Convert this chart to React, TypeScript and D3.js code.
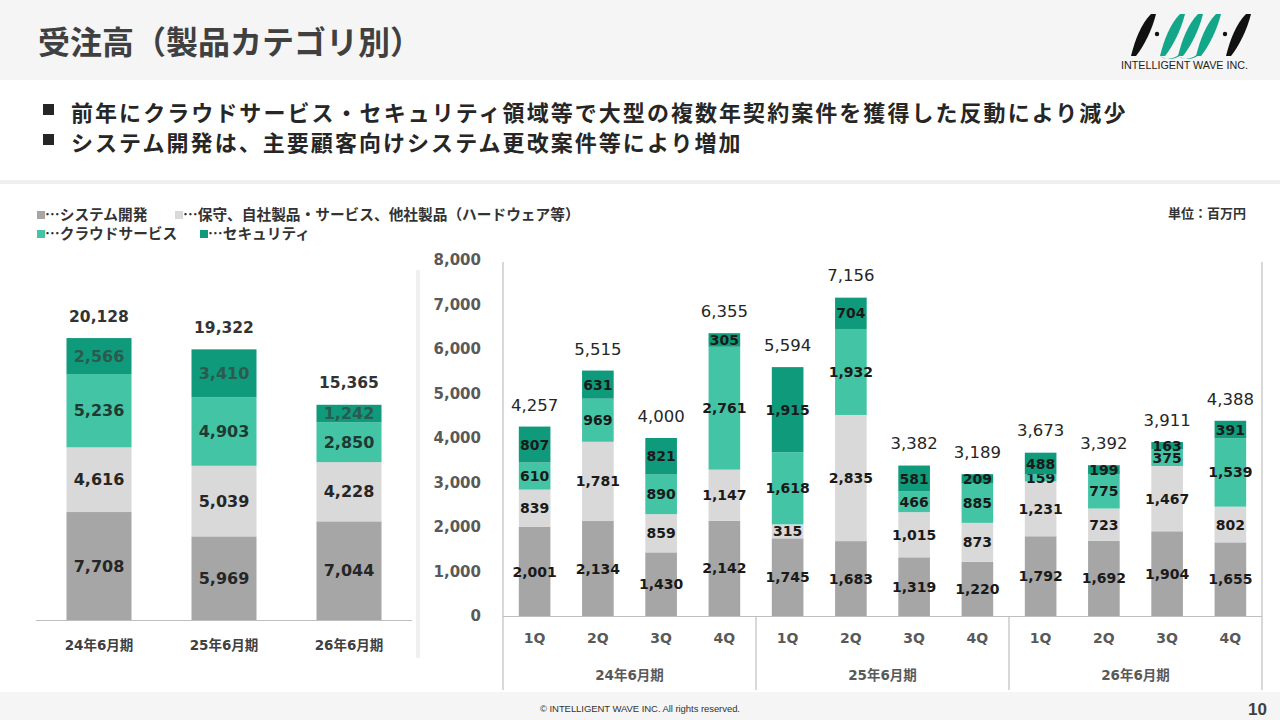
import React from 'react';
import * as d3 from 'd3';

// ---- data (百万円) ----
const SERIES_KEYS = ['system', 'maint', 'cloud', 'security'] as const;
const SERIES_LABELS = ['…システム開発', '…保守、自社製品・サービス、他社製品（ハードウェア等）', '…クラウドサービス', '…セキュリティ'];
const SERIES_COLORS = ['#a6a6a6', '#d9d9d9', '#43c4a5', '#0f9a7c'];

const annualYears = ['24年6月期', '25年6月期', '26年6月期'];
const annualSystem = [7708, 5969, 7044];
const annualMaint = [4616, 5039, 4228];
const annualCloud = [5236, 4903, 2850];
const annualSecurity = [2566, 3410, 1242];
const annualTotals = [20128, 19322, 15365];

const fiscalYears = ['24年6月期', '25年6月期', '26年6月期'];
const quarterNames = ['1Q', '2Q', '3Q', '4Q'];
const qSystem = [2001, 2134, 1430, 2142, 1745, 1683, 1319, 1220, 1792, 1692, 1904, 1655];
const qMaint = [839, 1781, 859, 1147, 315, 2835, 1015, 873, 1231, 723, 1467, 802];
const qCloud = [610, 969, 890, 2761, 1618, 1932, 466, 885, 159, 775, 375, 1539];
const qSecurity = [807, 631, 821, 305, 1915, 704, 581, 209, 488, 199, 163, 391];
const qTotals = [4257, 5515, 4000, 6355, 5594, 7156, 3382, 3189, 3673, 3392, 3911, 4388];
const yTicks = [0, 1000, 2000, 3000, 4000, 5000, 6000, 7000, 8000];

const bullets = [
  '前年にクラウドサービス・セキュリティ領域等で大型の複数年契約案件を獲得した反動により減少',
  'システム開発は、主要顧客向けシステム更改案件等により増加',
];

const NUM_FONT = '"DejaVu Sans", "Noto Sans CJK JP", sans-serif';
const JP_FONT = '"Noto Sans CJK JP", sans-serif';
const fmt = d3.format(',');

type Row = { system: number; maint: number; cloud: number; security: number };

const annualRows: Row[] = annualYears.map((_, i) => ({
  system: annualSystem[i], maint: annualMaint[i], cloud: annualCloud[i], security: annualSecurity[i],
}));
const quarterRows: Row[] = qSystem.map((_, i) => ({
  system: qSystem[i], maint: qMaint[i], cloud: qCloud[i], security: qSecurity[i],
}));

const stacker = d3.stack<Row>().keys(SERIES_KEYS as unknown as string[]);

function Logo() {
  const leaf = (x: number, c: string) => (
    <path d={`M${x},56 C${x + 4},40 ${x + 10},24 ${x + 20},14 L${x + 25},14 C${x + 21},30 ${x + 13},46 ${x + 5},56 Z`} fill={c} />
  );
  const teal = '#14a689';
  return (
    <g>
      {leaf(1131, '#111')}
      <circle cx={1157} cy={34} r={2.2} fill="#111" />
      {leaf(1160, teal)}
      {leaf(1178, teal)}
      {leaf(1196, teal)}
      <path d="M1160,56 C1164,60 1176,60 1181,52 L1184,50 C1181,58 1170,62 1160,56 Z" fill={teal} />
      <path d="M1178,56 C1182,60 1194,60 1199,52 L1202,50 C1199,58 1188,62 1178,56 Z" fill={teal} />
      <circle cx={1225} cy={34} r={2.2} fill="#111" />
      {leaf(1226, '#111')}
      <text x={1121} y={69} fontSize={10.5} textLength={127} lengthAdjust="spacingAndGlyphs"
        fontFamily='"Liberation Sans Narrow", "Liberation Sans", sans-serif' fill="#222">INTELLIGENT WAVE INC.</text>
    </g>
  );
}

export default function App() {
  // left: annual
  const xL = d3.scaleBand<string>().domain(annualYears).range([36.5, 411.5]).paddingInner(0.48).paddingOuter(0.24);
  const yL = d3.scaleLinear().domain([0, 25700]).range([620, 260]);
  const annualStack = stacker(annualRows);

  // right: quarterly
  const qIdx = qSystem.map((_, i) => String(i));
  const xR = d3.scaleBand<string>().domain(qIdx).range([503, 1262]).paddingInner(0.5).paddingOuter(0.25);
  const yR = d3.scaleLinear().domain([0, 8000]).range([616, 260]);
  const quarterStack = stacker(quarterRows);
  const step = xR.step();

  const leftLabelColor = ['#262626', '#262626', '#1f3a33', '#2b5a4e'];

  return (
    <svg width={1280} height={720} viewBox="0 0 1280 720"
      style={{ position: 'absolute', left: 0, top: 0, background: '#fff' }}>
      {/* header */}
      <rect x={0} y={0} width={1280} height={80} fill="#f5f5f5" />
      <text x={38} y={54} fontSize={32} fontWeight={700} fontFamily={JP_FONT} fill="#404040">受注高（製品カテゴリ別）</text>
      <Logo />

      {bullets.map((b, i) => (
        <g key={i}>
          <rect x={43} y={104 + i * 30} width={11} height={11} fill="#262626" />
          <text x={71} y={121 + i * 30} fontSize={22} letterSpacing={2.05} fontWeight={700}
            fontFamily={JP_FONT} fill="#262626">{b}</text>
        </g>
      ))}
      <rect x={0} y={180} width={1280} height={4} fill="#efefef" />

      {/* legend */}
      {SERIES_LABELS.map((s, i) => {
        const lx = [37, 175, 37, 200][i];
        const ly = i < 2 ? 215 : 234;
        return (
          <g key={s}>
            <rect x={lx} y={ly - 4} width={8} height={8} fill={SERIES_COLORS[i]} />
            <text x={lx + 8} y={ly} dy="0.35em" fontSize={14.7} fontWeight={700} fontFamily={JP_FONT} fill="#333">{s}</text>
          </g>
        );
      })}
      <text x={1246} y={213} dy="0.35em" textAnchor="end" fontSize={13} fontWeight={700} fontFamily={JP_FONT} fill="#333">単位：百万円</text>

      {/* left annual chart */}
      {annualStack.map((layer, si) => (
        <g key={layer.key}>
          {layer.map((d, i) => (
            <g key={i}>
              <rect x={xL(annualYears[i])} y={yL(d[1])} width={xL.bandwidth()} height={yL(d[0]) - yL(d[1])}
                fill={SERIES_COLORS[si]} />
              <text x={xL(annualYears[i])! + xL.bandwidth() / 2} y={(yL(d[0]) + yL(d[1])) / 2} dy="0.36em"
                textAnchor="middle" fontSize={16} fontWeight={700} fontFamily={NUM_FONT} fill={leftLabelColor[si]}>
                {fmt(d[1] - d[0])}
              </text>
            </g>
          ))}
        </g>
      ))}
      {annualTotals.map((t, i) => (
        <text key={i} x={xL(annualYears[i])! + xL.bandwidth() / 2} y={yL(annualStack[3][i][1]) - 22} dy="0.36em"
          textAnchor="middle" fontSize={15.5} fontWeight={700} fontFamily={NUM_FONT} fill="#333">{fmt(t)}</text>
      ))}
      <line x1={36} x2={412} y1={620.5} y2={620.5} stroke="#bfbfbf" strokeWidth={1.2} />
      {annualYears.map((y) => (
        <text key={y} x={xL(y)! + xL.bandwidth() / 2} y={645} dy="0.35em" textAnchor="middle"
          fontSize={13.5} fontWeight={700} fontFamily={NUM_FONT} fill="#404040">{y}</text>
      ))}

      {/* divider */}
      <rect x={416} y={270} width={4} height={388} fill="#f0f0f0" />

      {/* right quarterly chart */}
      {yTicks.map((t) => (
        <text key={t} x={481} y={yR(t)} dy="0.36em" textAnchor="end" fontSize={15} fontWeight={700}
          fontFamily={NUM_FONT} fill="#595959">{fmt(t)}</text>
      ))}
      {quarterStack.map((layer, si) => (
        <g key={layer.key}>
          {layer.map((d, i) => (
            <g key={i}>
              <rect x={xR(String(i))} y={yR(d[1])} width={xR.bandwidth()} height={yR(d[0]) - yR(d[1])}
                fill={SERIES_COLORS[si]} />
              <text x={xR(String(i))! + xR.bandwidth() / 2} y={(yR(d[0]) + yR(d[1])) / 2} dy="0.36em"
                textAnchor="middle" fontSize={14} fontWeight={700} fontFamily={NUM_FONT} fill="#1a1a1a">
                {fmt(d[1] - d[0])}
              </text>
            </g>
          ))}
        </g>
      ))}
      {qTotals.map((t, i) => (
        <text key={i} x={xR(String(i))! + xR.bandwidth() / 2} y={yR(t) - 22} dy="0.36em" textAnchor="middle"
          fontSize={16.5} fontFamily={NUM_FONT} fill="#262626">{fmt(t)}</text>
      ))}
      <line x1={503} x2={503} y1={262} y2={690} stroke="#bfbfbf" strokeWidth={1.2} />
      <line x1={1262} x2={1262} y1={262} y2={690} stroke="#bfbfbf" strokeWidth={1.2} />
      <line x1={503} x2={1262} y1={616.5} y2={616.5} stroke="#bfbfbf" strokeWidth={1.2} />
      {[1, 2].map((g) => {
        const sx = xR(String(g * 4))! - step * 0.25;
        return <line key={g} x1={sx} x2={sx} y1={616} y2={690} stroke="#bfbfbf" strokeWidth={1.2} />;
      })}
      {qIdx.map((q, i) => (
        <text key={q} x={xR(q)! + xR.bandwidth() / 2} y={638} dy="0.35em" textAnchor="middle" fontSize={14}
          fontWeight={700} fontFamily={NUM_FONT} fill="#595959">{quarterNames[i % 4]}</text>
      ))}
      {fiscalYears.map((fy, g) => {
        const a = xR(String(g * 4))!;
        const b = xR(String(g * 4 + 3))! + xR.bandwidth();
        return (
          <text key={fy} x={(a + b) / 2} y={675} dy="0.35em" textAnchor="middle" fontSize={13.5} fontWeight={700}
            fontFamily={NUM_FONT} fill="#595959">{fy}</text>
        );
      })}

      {/* footer */}
      <rect x={0} y={692} width={1280} height={28} fill="#f5f5f5" />
      <text x={640} y={709} dy="0.35em" textAnchor="middle" fontSize={9.5} textLength={200}
        fontFamily='"Liberation Sans Narrow", "Liberation Sans", sans-serif' fill="#333">© INTELLIGENT WAVE INC. All rights reserved.</text>
      <text x={1267} y={709} dy="0.35em" textAnchor="end" fontSize={17} fontWeight={700}
        fontFamily='"Liberation Sans", sans-serif' fill="#404040">10</text>
    </svg>
  );
}
